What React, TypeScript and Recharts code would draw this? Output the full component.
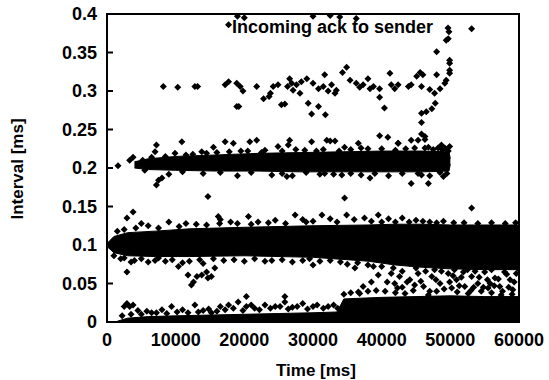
import { ComposedChart, Area, Scatter, XAxis, YAxis, ReferenceArea } from 'recharts'

const FONT = '"Liberation Sans", Arial, sans-serif'

const timeTicks = [0, 10000, 20000, 30000, 40000, 50000, 60000]
const intervalTicks = [0, 0.05, 0.1, 0.15, 0.2, 0.25, 0.3, 0.35, 0.4]

// dense cloud around 0.1 ms
const midBandTime = [0, 1000, 3000, 7000, 12000, 20000, 30000, 38000, 42000, 46000, 50000, 55000, 60000]
const midBandLow = [0.098, 0.09, 0.086, 0.085, 0.085, 0.086, 0.084, 0.079, 0.074, 0.071, 0.069, 0.068, 0.068]
const midBandHigh = [0.102, 0.111, 0.116, 0.118, 0.121, 0.123, 0.125, 0.126, 0.127, 0.127, 0.126, 0.126, 0.126]

// cloud around 0.2 ms, stops at 50 s
const ackBandTime = [4000, 6000, 10000, 16000, 22000, 28000, 34000, 40000, 46000, 49800, 50000]
const ackBandLow = [0.2, 0.198, 0.197, 0.196, 0.196, 0.195, 0.195, 0.195, 0.195, 0.196, 0.205]
const ackBandHigh = [0.208, 0.212, 0.215, 0.217, 0.219, 0.22, 0.221, 0.222, 0.222, 0.221, 0.212]

// cloud sitting on zero
const floorBandTime = [1500, 3000, 6000, 10000, 15000, 20000, 25000, 30000, 33500, 34500, 40000, 45000, 50000, 55000, 60000]
const floorBandHigh = [0.001, 0.005, 0.007, 0.008, 0.009, 0.01, 0.011, 0.012, 0.013, 0.03, 0.032, 0.033, 0.034, 0.033, 0.033]

const highPoints: [number, number][] = [
  [8200, 0.306], [10300, 0.305], [12800, 0.306], [13200, 0.306], [17200, 0.308], [17700, 0.312],
  [18900, 0.31], [19400, 0.306], [19800, 0.3], [18900, 0.28], [19200, 0.28], [21800, 0.306],
  [22800, 0.29], [23600, 0.293], [23800, 0.297], [24200, 0.306], [24900, 0.308], [25400, 0.282],
  [25900, 0.283], [26300, 0.306], [26600, 0.316], [26900, 0.31], [27100, 0.301], [27600, 0.308],
  [28100, 0.297], [28300, 0.312], [29100, 0.316], [29300, 0.284], [29800, 0.27], [30000, 0.31],
  [30800, 0.28], [30800, 0.303], [31500, 0.306], [31700, 0.321], [31800, 0.269], [32200, 0.3],
  [32700, 0.308], [33200, 0.297], [33400, 0.301], [34300, 0.324], [34900, 0.331], [35400, 0.314],
  [36300, 0.31], [36800, 0.305], [37300, 0.308], [38000, 0.316], [38300, 0.303], [38800, 0.306],
  [39700, 0.303], [39700, 0.292], [40400, 0.278], [41200, 0.323], [41400, 0.308], [41900, 0.303],
  [42400, 0.308], [43900, 0.306], [44300, 0.308], [45100, 0.319], [45600, 0.324], [46000, 0.321],
  [45800, 0.306], [45800, 0.271], [45800, 0.259], [45800, 0.244], [46300, 0.237], [46500, 0.273],
  [47300, 0.277], [47000, 0.302], [47700, 0.297], [48000, 0.321], [47800, 0.284], [48500, 0.303],
  [49200, 0.31], [49400, 0.314], [49900, 0.323], [49900, 0.336], [49900, 0.34], [49400, 0.366],
  [49700, 0.368], [49800, 0.377], [48000, 0.351], [53100, 0.381], [49900, 0.327], [17700, 0.386],
  [19000, 0.397], [20000, 0.395], [30000, 0.397], [32500, 0.398], [33900, 0.396], [36300, 0.394],
]

const ackEdgePoints: [number, number][] = [
  [1600, 0.203], [3300, 0.21], [3800, 0.214], [7200, 0.23], [7000, 0.221], [10900, 0.234],
  [9900, 0.219], [13800, 0.221], [15500, 0.227], [17200, 0.234], [18400, 0.232], [20800, 0.234],
  [21800, 0.236], [24900, 0.228], [26600, 0.236], [29800, 0.234], [32000, 0.236], [33200, 0.235],
  [34600, 0.227], [36600, 0.232], [39700, 0.242], [40900, 0.24], [42400, 0.232], [44300, 0.236],
  [45300, 0.236], [46300, 0.241], [46300, 0.226], [48200, 0.226], [48700, 0.23], [49200, 0.226],
  [49900, 0.228], [32500, 0.235], [26400, 0.23], [42400, 0.232],
  [5200, 0.21], [8500, 0.215], [11500, 0.217], [14500, 0.219], [17800, 0.221], [20500, 0.222],
  [23000, 0.223], [27500, 0.224], [30500, 0.222], [35500, 0.224], [38000, 0.225], [43500, 0.225],
  [47500, 0.224], [6500, 0.214], [12500, 0.218], [16000, 0.22], [19500, 0.222], [22500, 0.22],
  [25500, 0.222], [28800, 0.223], [31500, 0.224], [33800, 0.222], [37000, 0.226], [40000, 0.225],
  [42000, 0.223], [44800, 0.226], [46800, 0.227], [48800, 0.224], [49700, 0.222],
  [5500, 0.197], [11000, 0.195], [16500, 0.194], [21000, 0.194], [25500, 0.193], [29000, 0.194],
  [31000, 0.192], [35500, 0.193], [39000, 0.193], [43000, 0.193], [45800, 0.191], [48500, 0.194],
  [7200, 0.178], [7500, 0.184], [8000, 0.187], [14700, 0.163], [26200, 0.189], [31700, 0.193],
  [34200, 0.191], [38300, 0.187], [44300, 0.18], [46800, 0.18], [49000, 0.189], [45300, 0.193],
  [9000, 0.192], [14000, 0.193], [19000, 0.19], [24000, 0.191], [27000, 0.19], [33000, 0.192],
  [37000, 0.191], [41000, 0.19], [47000, 0.19], [49500, 0.193], [34600, 0.161], [53100, 0.148],
]

const midEdgePoints: [number, number][] = [
  [3800, 0.143], [2900, 0.135], [16200, 0.137], [16400, 0.128], [20600, 0.137], [27400, 0.139],
  [31300, 0.139], [34900, 0.139], [39500, 0.139], [5000, 0.128], [9000, 0.13], [13000, 0.127],
  [16500, 0.133], [18000, 0.13], [22000, 0.13], [24500, 0.132], [28500, 0.133], [30000, 0.131],
  [32500, 0.134], [36000, 0.133], [37500, 0.135], [41000, 0.134], [43000, 0.135], [45000, 0.132],
  [47000, 0.13], [49000, 0.131], [52000, 0.129],
  [1500, 0.118], [2500, 0.12], [4200, 0.122], [6000, 0.125], [7500, 0.122], [10500, 0.124],
  [11500, 0.128], [14500, 0.126], [19000, 0.128], [21000, 0.127], [23500, 0.129], [26000, 0.128],
  [29000, 0.13], [33500, 0.13], [38500, 0.131], [40000, 0.13], [42000, 0.13], [44000, 0.13],
  [46000, 0.131], [48000, 0.129], [50500, 0.129], [54000, 0.128], [56000, 0.129], [58000, 0.128],
  [59500, 0.129],
  [2900, 0.065], [11800, 0.061], [12600, 0.052], [12300, 0.048], [13100, 0.059], [13800, 0.061],
  [14500, 0.065], [15200, 0.059], [15700, 0.07], [14700, 0.057], [10400, 0.072], [7500, 0.083],
  [30000, 0.074], [36600, 0.039], [37300, 0.046], [38500, 0.052], [39500, 0.061], [38800, 0.072],
  [36100, 0.07], [2000, 0.082], [4000, 0.08], [6000, 0.078], [8500, 0.079], [11000, 0.077],
  [14000, 0.076], [17000, 0.08], [20000, 0.079], [24000, 0.08], [27000, 0.078], [31000, 0.079],
  [35000, 0.075], [1000, 0.086], [2500, 0.083], [3500, 0.078], [5000, 0.082], [7000, 0.08],
  [9500, 0.081], [12000, 0.079], [13500, 0.081], [15500, 0.082], [18500, 0.081], [21500, 0.082],
  [23000, 0.079], [25500, 0.081], [28500, 0.08], [29500, 0.082], [32500, 0.08], [34000, 0.078],
  [36500, 0.077], [38000, 0.074], [40000, 0.072],
]

const lowPoints: [number, number][] = [
  [41400, 0.063], [42600, 0.059], [41900, 0.05], [44100, 0.076], [44100, 0.055], [45300, 0.063],
  [46100, 0.046], [47300, 0.059], [47700, 0.068], [48500, 0.05], [49700, 0.063], [50200, 0.044],
  [50900, 0.055], [51900, 0.065], [52100, 0.046], [53100, 0.059], [54000, 0.05], [55000, 0.065],
  [55500, 0.044], [56500, 0.057], [57200, 0.046], [57900, 0.065], [58700, 0.055], [59100, 0.042],
  [59600, 0.063], [43400, 0.037], [46800, 0.035], [52600, 0.037], [57400, 0.035], [40500, 0.04],
  [43000, 0.045], [48000, 0.04], [51000, 0.039], [54500, 0.04], [56000, 0.038], [59000, 0.036],
  [40800, 0.052], [41700, 0.07], [42300, 0.044], [43000, 0.066], [43700, 0.052], [44600, 0.041],
  [45000, 0.07], [45700, 0.053], [46400, 0.066], [47000, 0.04], [47900, 0.055], [48700, 0.066],
  [49100, 0.043], [49900, 0.052], [50600, 0.068], [51300, 0.047], [51600, 0.058], [52500, 0.068],
  [53000, 0.041], [53600, 0.066], [54200, 0.058], [54800, 0.045], [55400, 0.055], [56000, 0.068],
  [56400, 0.047], [57000, 0.056], [57600, 0.04], [58200, 0.062], [58500, 0.045], [59300, 0.052],
  [59800, 0.07], [44800, 0.048], [50400, 0.06], [55800, 0.05], [42000, 0.038], [53400, 0.045],
  [34500, 0.036], [35500, 0.038], [36800, 0.037], [38000, 0.04], [39200, 0.041],
  [2500, 0.02], [2900, 0.024], [3300, 0.02], [3800, 0.022], [4500, 0.015], [6500, 0.012],
  [8000, 0.016], [9400, 0.02], [11000, 0.016], [12800, 0.022], [14000, 0.015], [15200, 0.012],
  [16500, 0.02], [17700, 0.022], [19100, 0.026], [20300, 0.02], [21500, 0.018], [23000, 0.022],
  [24500, 0.02], [25900, 0.026], [27000, 0.019], [28500, 0.024], [30000, 0.02], [31500, 0.018],
  [33000, 0.022], [20300, 0.033], [25900, 0.033],
  [2200, 0.008], [3500, 0.01], [5000, 0.01], [5800, 0.014], [7200, 0.012], [8700, 0.011],
  [10200, 0.013], [11800, 0.012], [13300, 0.013], [14800, 0.017], [16000, 0.014], [17200, 0.016],
  [18400, 0.018], [19800, 0.015], [21000, 0.022], [22200, 0.016], [23800, 0.018], [25200, 0.02],
  [26400, 0.017], [27700, 0.02], [29200, 0.017], [30600, 0.022], [32200, 0.02], [33600, 0.018],
]

const midBand = midBandTime.map((t, i) => ({ t, r: [midBandLow[i], midBandHigh[i]] }))
const ackBand = ackBandTime.map((t, i) => ({ t, r: [ackBandLow[i], ackBandHigh[i]] }))
const floorBand = floorBandTime.map((t, i) => ({ t, r: [0, floorBandHigh[i]] }))
const toPts = (list: [number, number][]) => list.map(([t, v]) => ({ t, v }))

const tickStyle = { fill: '#000', fontSize: 18, fontWeight: 700, fontFamily: FONT }

// small gnuplot-like point
const Dot = (props: any) => {
  const { cx, cy } = props
  if (cx == null || cy == null) return null
  const r = 3.5
  return <path d={`M${cx},${cy - r}L${cx + r},${cy}L${cx},${cy + r}L${cx - r},${cy}Z`} fill="#000" />
}

export default function App() {
  return (
    <div style={{ position: 'absolute', left: 0, top: 0, background: '#fff' }}>
      <ComposedChart width={549} height={380} margin={{ top: 13, right: 29, bottom: 0, left: 0 }}>
        <XAxis
          dataKey="t"
          type="number"
          domain={[0, 60000]}
          ticks={timeTicks}
          allowDataOverflow
          height={58}
          stroke="#000"
          strokeWidth={2}
          tickSize={-6}
          tickMargin={17}
          tick={tickStyle}
          interval={0}
        />
        <XAxis xAxisId="top" orientation="top" type="number" domain={[0, 60000]} ticks={timeTicks} height={1} stroke="#000" strokeWidth={2} tickSize={-6} tick={false} />
        <YAxis
          type="number"
          domain={[0, 0.4]}
          ticks={intervalTicks}
          allowDataOverflow
          width={107}
          stroke="#000"
          strokeWidth={2}
          tickSize={-6}
          tickMargin={16}
          tick={tickStyle}
          interval={0}
        />
        <YAxis yAxisId="right" orientation="right" type="number" domain={[0, 0.4]} ticks={intervalTicks} width={1} stroke="#000" strokeWidth={2} tickSize={-6} tick={false} />
        <ReferenceArea x1={0} x2={60000} y1={0} y2={0.4} fill="none" stroke="#000" strokeWidth={2} ifOverflow="visible" />
        <Area data={floorBand} dataKey="r" type="linear" fill="#000" fillOpacity={1} stroke="#000" strokeWidth={1} isAnimationActive={false} legendType="none" />
        <Area data={midBand} dataKey="r" type="linear" fill="#000" fillOpacity={1} stroke="#000" strokeWidth={1} isAnimationActive={false} legendType="none" />
        <Area data={ackBand} dataKey="r" type="linear" fill="#000" fillOpacity={1} stroke="#000" strokeWidth={1} isAnimationActive={false} legendType="none" />
        <Scatter name="Incoming ack to sender" data={toPts(highPoints)} dataKey="v" shape={Dot} isAnimationActive={false} />
        <Scatter data={toPts(ackEdgePoints)} dataKey="v" shape={Dot} isAnimationActive={false} />
        <Scatter data={toPts(midEdgePoints)} dataKey="v" shape={Dot} isAnimationActive={false} />
        <Scatter data={toPts(lowPoints)} dataKey="v" shape={Dot} isAnimationActive={false} />
        <text x={433} y={33} textAnchor="end" fontFamily={FONT} fontSize={18} fontWeight={700} fill="#000">
          Incoming ack to sender
        </text>
        <path d="M448,24.5L451.5,28L448,31.5L444.5,28Z" fill="#000" />
        <text x={23} y={169} transform="rotate(-90 23 169)" textAnchor="middle" fontFamily={FONT} fontSize={17} fontWeight={700} fill="#000">
          Interval [ms]
        </text>
        <text x={316} y={376} textAnchor="middle" fontFamily={FONT} fontSize={17} fontWeight={700} fill="#000">
          Time [ms]
        </text>
      </ComposedChart>
    </div>
  )
}
